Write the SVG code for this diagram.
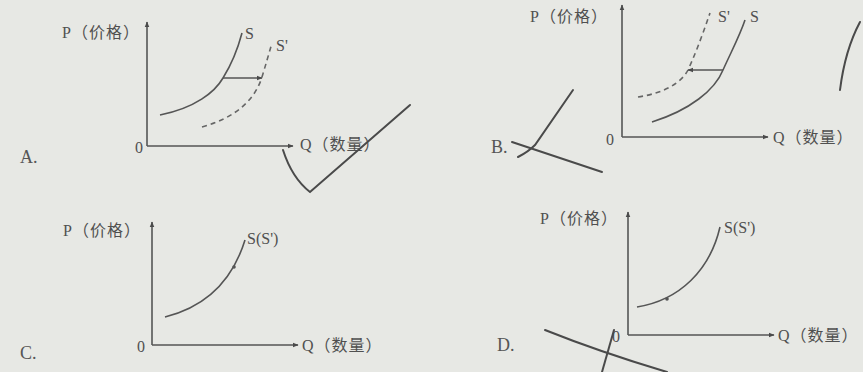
<svg xmlns="http://www.w3.org/2000/svg" width="863" height="372" viewBox="0 0 863 372">
<defs>
<marker id="ah" viewBox="0 0 10 10" refX="9" refY="5" markerWidth="6" markerHeight="6" orient="auto-start-reverse" markerUnits="userSpaceOnUse"><path d="M0,1 L10,5 L0,9 z" fill="#4a4a4a"/></marker>
<style>
.ax{stroke:#555;stroke-width:1.6;fill:none}
.cv{stroke:#555;stroke-width:1.6;fill:none}
.dc{stroke:#666;stroke-width:1.6;fill:none;stroke-dasharray:5 4}
.pen{stroke:#4a4a4a;stroke-width:2;fill:none;stroke-linecap:round}
.t{font-family:"Liberation Serif","Noto Sans CJK SC",serif;font-size:16px;letter-spacing:1px;fill:#505050}
.s{font-family:"Liberation Serif",serif;font-size:16px;fill:#505050}
.lb{font-family:"Liberation Serif",serif;font-size:18px;fill:#555}
</style>
</defs>
<rect width="863" height="372" fill="#e7e8e4"/>
<g id="graphA">
<path class="ax" d="M147,146 V22" marker-end="url(#ah)"/>
<path class="ax" d="M147,146 H293" marker-end="url(#ah)"/>
<text class="t" x="62" y="38">P（价格）</text>
<text class="s" x="135" y="153">0</text>
<text class="t" x="300" y="150">Q（数量）</text>
<text class="lb" x="20" y="163">A.</text>
<path class="cv" d="M160,115 C195,108 215,92 223,78 C233,62 238,48 242,33"/>
<path class="dc" d="M202,127 C235,118 255,100 262,77 C266,64 269,53 272,43"/>
<path class="cv" d="M223,78 H262" marker-end="url(#ah)"/>
<text class="s" x="245" y="39">S</text>
<text class="s" x="276" y="51">S'</text>
</g>
<g id="graphB">
<path class="ax" d="M622,137 V5" marker-end="url(#ah)"/>
<path class="ax" d="M622,137 H768" marker-end="url(#ah)"/>
<text class="t" x="530" y="22">P（价格）</text>
<text class="s" x="606" y="145">0</text>
<text class="t" x="773" y="143">Q（数量）</text>
<text class="lb" x="491" y="153">B.</text>
<path class="cv" d="M652,122 C690,110 715,90 723,70 C733,48 740,35 745,20"/>
<path class="dc" d="M638,97 C665,93 682,82 688,70 C698,48 704,30 710,13"/>
<path class="cv" d="M723,70 H688" marker-end="url(#ah)"/>
<text class="s" x="718" y="22">S'</text>
<text class="s" x="750" y="22">S</text>
</g>
<g id="graphC">
<path class="ax" d="M152,345 V222" marker-end="url(#ah)"/>
<path class="ax" d="M152,345 H298" marker-end="url(#ah)"/>
<text class="t" x="63" y="236">P（价格）</text>
<text class="s" x="137" y="352">0</text>
<text class="t" x="302" y="351">Q（数量）</text>
<text class="lb" x="20" y="359">C.</text>
<path class="cv" d="M165,317 C205,307 232,282 245,240"/>
<circle cx="234" cy="267" r="1.8" fill="#555"/>
<text class="s" x="247" y="244">S(S')</text>
</g>
<g id="graphD">
<path class="ax" d="M628,335 V212" marker-end="url(#ah)"/>
<path class="ax" d="M628,335 H774" marker-end="url(#ah)"/>
<text class="t" x="540" y="224">P（价格）</text>
<text class="s" x="612" y="342">0</text>
<text class="t" x="778" y="341">Q（数量）</text>
<text class="lb" x="497" y="351">D.</text>
<path class="cv" d="M637,307 C680,300 710,270 720,227"/>
<circle cx="667" cy="299" r="1.8" fill="#555"/>
<text class="s" x="724" y="233">S(S')</text>
</g>
<g id="penmarks">
<path class="pen" d="M283,150 Q292,178 310,192 L410,105"/>
<path class="pen" d="M573,90 L535,145 Q528,152 518,157"/>
<path class="pen" d="M512,142 L602,172"/>
<path class="pen" d="M860,22 Q845,50 840,90" stroke-width="3"/>
<path class="pen" d="M545,330 Q600,352 667,372"/>
<path class="pen" d="M614,330 L602,372"/>
</g>
</svg>
